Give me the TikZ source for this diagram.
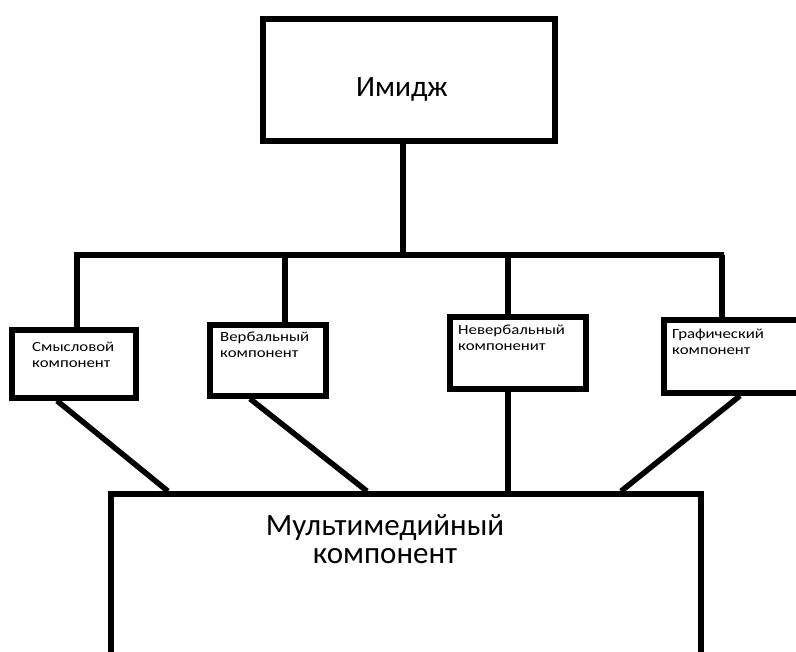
\documentclass[tikz,border=0pt]{standalone}
\usepackage{fontspec}
\setmainfont{Carlito}
\usepackage{tikz}
\usetikzlibrary{calc}

\begin{document}
\begin{tikzpicture}[x=1pt, y=-1pt,
    box/.style={draw, line width=5.5pt, fill=white, inner sep=0pt},
    link/.style={line width=5.5pt},
    smalltxt/.style={font=\fontsize{14}{16.5}\selectfont, align=left, inner sep=0pt, anchor=base west, xscale=1.2}]
  \useasboundingbox (0,0) rectangle (796,652);
  \clip (0,0) rectangle (796,652);

  % Top box
  \node[box, minimum width=292pt, minimum height=122pt] (image) at (409,80) {};
  \node[font=\fontsize{29.5}{30}\selectfont, inner sep=0pt, anchor=base] (imagelbl) at (402,97) {Имидж};

  % Bus
  \coordinate (busL) at (74,255);
  \coordinate (busR) at (724,255);
  \draw[link] (image.south -| 403,0) -- (403,255);
  \draw[link] (busL) -- (busR);

  % Component boxes
  \node[box, minimum width=124pt, minimum height=68pt] (sense) at (74,364) {};
  \node[smalltxt] (senselbl) at (32,368) {Смысловой\\компонент};

  \node[box, minimum width=116pt, minimum height=71pt] (verbal) at (268,360.5) {};
  \node[smalltxt] (verballbl) at (220,358) {Вербальный\\компонент};

  \node[box, minimum width=136pt, minimum height=72pt] (nonverbal) at (518,353) {};
  \node[smalltxt] (nonverballbl) at (458,351) {Невербальный\\компоненит};

  \node[box, minimum width=150pt, minimum height=73pt] (graphic) at (739,356.5) {};
  \node[smalltxt] (graphiclbl) at (672,355) {Графический\\компонент};

  % Drops from bus
  \draw[link] ([xshift=3pt]sense.north) -- ([xshift=3pt]sense.north |- busL);
  \draw[link] ([xshift=17pt]verbal.north) -- ([xshift=17pt]verbal.north |- busL);
  \draw[link] ([xshift=-10pt]nonverbal.north) -- ([xshift=-10pt]nonverbal.north |- busL);
  \draw[link] ([xshift=-17pt]graphic.north) -- ([xshift=-17pt]graphic.north |- busL);

  % Bottom box
  \node[box, minimum width=590pt, minimum height=220pt] (multi) at (406,604) {};
  \node[font=\fontsize{31}{28}\selectfont, align=center, inner sep=0pt, anchor=base] (multilbl) at (385,563) {Мультимедийный\\компонент};

  % Links to bottom box
  \draw[link] ([xshift=-17pt]sense.south) -- ([xshift=-238pt]multi.north);
  \draw[link] ([xshift=-18pt]verbal.south) -- ([xshift=-39pt]multi.north);
  \draw[link] ([xshift=-10pt]nonverbal.south) -- ([xshift=102pt]multi.north);
  \draw[link] ([xshift=1pt]graphic.south) -- ([xshift=215pt]multi.north);
\end{tikzpicture}
\end{document}
